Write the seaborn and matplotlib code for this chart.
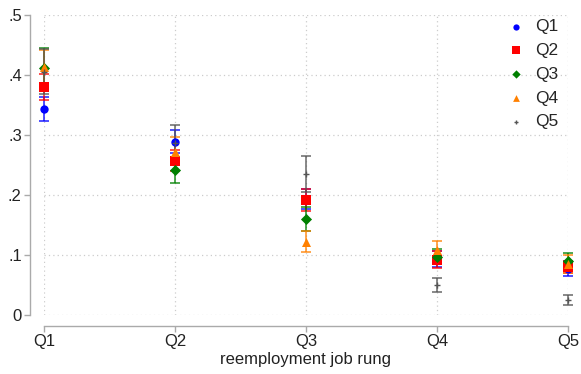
import matplotlib
matplotlib.use("Agg")
import matplotlib.pyplot as plt
import seaborn as sns
import pandas as pd

# Reemployment job rung (x categories) and origin quintile groups (series)
rungs = ["Q1", "Q2", "Q3", "Q4", "Q5"]
groups = ["Q1", "Q2", "Q3", "Q4", "Q5"]

# Point estimates per group, one value per rung
est_q1 = [0.343, 0.289, 0.193, 0.093, 0.077]
est_q2 = [0.380, 0.257, 0.192, 0.092, 0.080]
est_q3 = [0.412, 0.242, 0.160, 0.097, 0.090]
est_q4 = [0.413, 0.272, 0.122, 0.108, 0.085]
est_q5 = [0.405, 0.287, 0.235, 0.050, 0.025]

# Lower / upper confidence bounds
lo_q1 = [0.323, 0.270, 0.177, 0.080, 0.065]
hi_q1 = [0.363, 0.308, 0.210, 0.106, 0.090]
lo_q2 = [0.358, 0.240, 0.173, 0.078, 0.070]
hi_q2 = [0.402, 0.275, 0.210, 0.106, 0.090]
lo_q3 = [0.387, 0.220, 0.140, 0.085, 0.077]
hi_q3 = [0.445, 0.263, 0.180, 0.110, 0.103]
lo_q4 = [0.387, 0.250, 0.105, 0.093, 0.070]
hi_q4 = [0.442, 0.297, 0.140, 0.123, 0.100]
lo_q5 = [0.368, 0.258, 0.205, 0.038, 0.017]
hi_q5 = [0.443, 0.316, 0.265, 0.062, 0.033]

est = [est_q1, est_q2, est_q3, est_q4, est_q5]
lo = [lo_q1, lo_q2, lo_q3, lo_q4, lo_q5]
hi = [hi_q1, hi_q2, hi_q3, hi_q4, hi_q5]

colors = ["#0000ff", "#ff0000", "#008000", "#ff8000", "#555555"]
markers = ["o", "s", "D", "^", "+"]
sizes = [36, 48, 32, 42, 22]

rows = []
for g, e, l, h in zip(groups, est, lo, hi):
    for r, ev, lv, hv in zip(rungs, e, l, h):
        rows.append({"rung": r, "group": g, "est": ev, "lo": lv, "hi": hv})
df = pd.DataFrame(rows)

sns.set_theme(style="white")
plt.rcParams["font.family"] = ["Liberation Sans", "DejaVu Sans"]

fig = plt.figure(figsize=(5.81, 3.74), dpi=100)
ax = fig.add_axes([44 / 581, 59 / 374, 524 / 581, 300 / 374])

for i, g in enumerate(groups):
    sub = df[df["group"] == g]
    cont = ax.errorbar(sub["rung"], sub["est"],
                       yerr=[sub["est"] - sub["lo"], sub["hi"] - sub["est"]],
                       fmt="none", ecolor=colors[i], elinewidth=1.3,
                       capsize=3.5, capthick=1.3, alpha=0.75, zorder=2 + i)
    for art in cont.lines[1] + cont.lines[2]:
        art.set_clip_on(False)
    n_before = len(ax.collections)
    sns.scatterplot(data=sub, x="rung", y="est", color=colors[i],
                    marker=markers[i], s=sizes[i],
                    linewidth=0 if markers[i] != "+" else 1.0,
                    edgecolor=colors[i], label=g, ax=ax, zorder=10 + i)
    for coll in ax.collections[n_before:]:
        coll.set_clip_on(False)

ax.set_xlim(0, 4)
ax.set_ylim(0, 0.5)
ax.set_yticks([0, 0.1, 0.2, 0.3, 0.4, 0.5])
ax.set_yticklabels(["0", ".1", ".2", ".3", ".4", ".5"])
ax.set_xlabel("reemployment job rung", fontsize=12, color="#222222", labelpad=2)
ax.set_ylabel("")

ax.grid(True, color="#cccccc", linestyle=(0, (1, 2.5)), linewidth=0.9)
for side in ["top", "right"]:
    ax.spines[side].set_visible(False)
for side in ["left", "bottom"]:
    ax.spines[side].set_color("#aaaaaa")
    ax.spines[side].set_linewidth(1.0)
ax.spines["left"].set_position(("outward", 10))
ax.spines["bottom"].set_position(("outward", 8))
ax.tick_params(axis="both", which="both", direction="out", length=4, width=1.0,
               color="#aaaaaa", labelsize=12, labelcolor="#222222",
               left=True, bottom=True, pad=2)

leg = ax.legend(loc="upper right", frameon=False, fontsize=12.5, handletextpad=0.1,
                labelspacing=0.5, borderaxespad=0.0, markerscale=0.75,
                bbox_to_anchor=(0.995, 1.01))

fig.savefig("out.png", dpi=100)
